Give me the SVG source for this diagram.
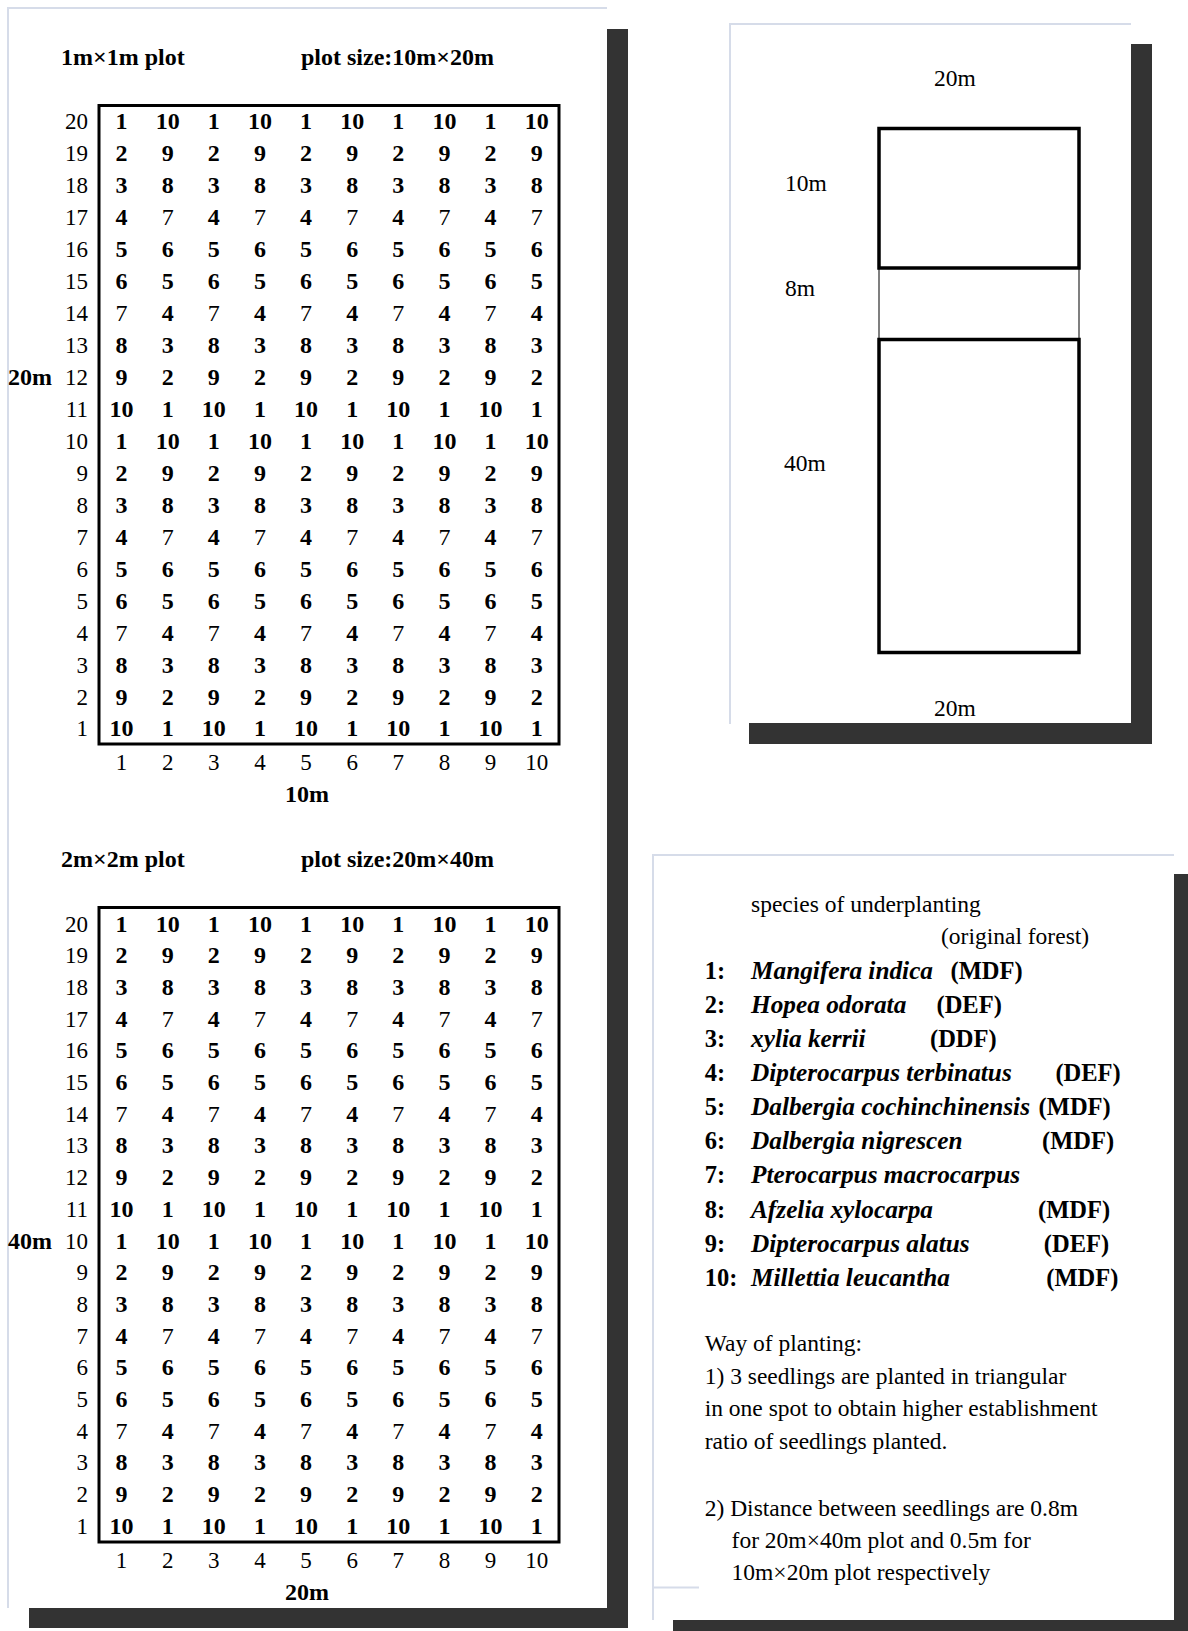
<svg xmlns="http://www.w3.org/2000/svg" width="1188" height="1631" viewBox="0 0 1188 1631">
<style>
text{font-family:"Liberation Serif","Times New Roman",serif;fill:#000}
.b{font-weight:bold;font-size:24px}
.c{font-weight:bold;font-size:24px;text-anchor:middle}
.n{font-weight:normal}
.lab{font-size:23px;text-anchor:end}
.ax{font-size:23px;text-anchor:middle}
.dim{font-weight:bold;font-size:24px;text-anchor:middle}
.r{font-size:23.5px}
.num{font-weight:bold;font-size:24.5px}
.sp{font-weight:bold;font-style:italic;font-size:25.3px}
.sh{fill:#333333}
.bd{stroke:#d6dce9;stroke-width:2;fill:none}
.box{fill:none;stroke:#000;stroke-width:3}
</style>
<rect width="1188" height="1631" fill="#fff"/>

<g id="panel-left">
<rect class="sh" x="607" y="29" width="21" height="1599"/>
<rect class="sh" x="29" y="1608" width="599" height="20"/>
<path class="bd" d="M8 1608 V8 H607"/>
</g>

<g id="panel-top-right">
<rect class="sh" x="1131" y="44" width="21" height="700"/>
<rect class="sh" x="749" y="723" width="403" height="21"/>
<path class="bd" d="M730 724 V24 H1131"/>
</g>

<g id="panel-bottom-right">
<rect class="sh" x="1174" y="874" width="14" height="757"/>
<rect class="sh" x="673" y="1620" width="515" height="11"/>
<path class="bd" d="M653 1620 V855 H1174"/>
<path class="bd" d="M653 1587.5 H699"/>
</g>

<g id="grid-10x20">
<text class="b" x="61" y="65">1m×1m plot</text>
<text class="b" x="301" y="65">plot size:10m×20m</text>
<rect class="box" x="99" y="105.5" width="460" height="638.5"/>
<g class="lab" transform="translate(0,-1.5)">
<text x="88" y="130.5">20</text><text x="88" y="162.5">19</text><text x="88" y="194.4">18</text><text x="88" y="226.4">17</text><text x="88" y="258.4">16</text><text x="88" y="290.4">15</text><text x="88" y="322.3">14</text><text x="88" y="354.3">13</text><text x="88" y="386.3">12</text><text x="88" y="418.2">11</text><text x="88" y="450.2">10</text><text x="88" y="482.2">9</text><text x="88" y="514.1">8</text><text x="88" y="546.1">7</text><text x="88" y="578.1">6</text><text x="88" y="610">5</text><text x="88" y="642">4</text><text x="88" y="674">3</text><text x="88" y="706">2</text><text x="88" y="737.9">1</text>
</g>
<text class="b" x="8" y="384.8">20m</text>
<g class="c" transform="translate(0,-1.5)">
<text y="130.5"><tspan x="121.6">1</tspan><tspan x="167.7">10</tspan><tspan x="213.8">1</tspan><tspan x="260">10</tspan><tspan x="306.1">1</tspan><tspan x="352.2">10</tspan><tspan x="398.3">1</tspan><tspan x="444.4">10</tspan><tspan x="490.6">1</tspan><tspan x="536.7">10</tspan></text>
<text y="162.5"><tspan x="121.6">2</tspan><tspan x="167.7">9</tspan><tspan x="213.8">2</tspan><tspan x="260">9</tspan><tspan x="306.1">2</tspan><tspan x="352.2">9</tspan><tspan x="398.3">2</tspan><tspan x="444.4">9</tspan><tspan x="490.6">2</tspan><tspan x="536.7">9</tspan></text>
<text y="194.4"><tspan x="121.6">3</tspan><tspan x="167.7">8</tspan><tspan x="213.8">3</tspan><tspan x="260">8</tspan><tspan x="306.1">3</tspan><tspan x="352.2">8</tspan><tspan x="398.3">3</tspan><tspan x="444.4">8</tspan><tspan x="490.6">3</tspan><tspan x="536.7">8</tspan></text>
<text y="226.4"><tspan x="121.6">4</tspan><tspan class="n" x="167.7">7</tspan><tspan x="213.8">4</tspan><tspan class="n" x="260">7</tspan><tspan x="306.1">4</tspan><tspan class="n" x="352.2">7</tspan><tspan x="398.3">4</tspan><tspan class="n" x="444.4">7</tspan><tspan x="490.6">4</tspan><tspan class="n" x="536.7">7</tspan></text>
<text y="258.4"><tspan x="121.6">5</tspan><tspan x="167.7">6</tspan><tspan x="213.8">5</tspan><tspan x="260">6</tspan><tspan x="306.1">5</tspan><tspan x="352.2">6</tspan><tspan x="398.3">5</tspan><tspan x="444.4">6</tspan><tspan x="490.6">5</tspan><tspan x="536.7">6</tspan></text>
<text y="290.4"><tspan x="121.6">6</tspan><tspan x="167.7">5</tspan><tspan x="213.8">6</tspan><tspan x="260">5</tspan><tspan x="306.1">6</tspan><tspan x="352.2">5</tspan><tspan x="398.3">6</tspan><tspan x="444.4">5</tspan><tspan x="490.6">6</tspan><tspan x="536.7">5</tspan></text>
<text y="322.3"><tspan class="n" x="121.6">7</tspan><tspan x="167.7">4</tspan><tspan class="n" x="213.8">7</tspan><tspan x="260">4</tspan><tspan class="n" x="306.1">7</tspan><tspan x="352.2">4</tspan><tspan class="n" x="398.3">7</tspan><tspan x="444.4">4</tspan><tspan class="n" x="490.6">7</tspan><tspan x="536.7">4</tspan></text>
<text y="354.3"><tspan x="121.6">8</tspan><tspan x="167.7">3</tspan><tspan x="213.8">8</tspan><tspan x="260">3</tspan><tspan x="306.1">8</tspan><tspan x="352.2">3</tspan><tspan x="398.3">8</tspan><tspan x="444.4">3</tspan><tspan x="490.6">8</tspan><tspan x="536.7">3</tspan></text>
<text y="386.3"><tspan x="121.6">9</tspan><tspan x="167.7">2</tspan><tspan x="213.8">9</tspan><tspan x="260">2</tspan><tspan x="306.1">9</tspan><tspan x="352.2">2</tspan><tspan x="398.3">9</tspan><tspan x="444.4">2</tspan><tspan x="490.6">9</tspan><tspan x="536.7">2</tspan></text>
<text y="418.2"><tspan x="121.6">10</tspan><tspan x="167.7">1</tspan><tspan x="213.8">10</tspan><tspan x="260">1</tspan><tspan x="306.1">10</tspan><tspan x="352.2">1</tspan><tspan x="398.3">10</tspan><tspan x="444.4">1</tspan><tspan x="490.6">10</tspan><tspan x="536.7">1</tspan></text>
<text y="450.2"><tspan x="121.6">1</tspan><tspan x="167.7">10</tspan><tspan x="213.8">1</tspan><tspan x="260">10</tspan><tspan x="306.1">1</tspan><tspan x="352.2">10</tspan><tspan x="398.3">1</tspan><tspan x="444.4">10</tspan><tspan x="490.6">1</tspan><tspan x="536.7">10</tspan></text>
<text y="482.2"><tspan x="121.6">2</tspan><tspan x="167.7">9</tspan><tspan x="213.8">2</tspan><tspan x="260">9</tspan><tspan x="306.1">2</tspan><tspan x="352.2">9</tspan><tspan x="398.3">2</tspan><tspan x="444.4">9</tspan><tspan x="490.6">2</tspan><tspan x="536.7">9</tspan></text>
<text y="514.1"><tspan x="121.6">3</tspan><tspan x="167.7">8</tspan><tspan x="213.8">3</tspan><tspan x="260">8</tspan><tspan x="306.1">3</tspan><tspan x="352.2">8</tspan><tspan x="398.3">3</tspan><tspan x="444.4">8</tspan><tspan x="490.6">3</tspan><tspan x="536.7">8</tspan></text>
<text y="546.1"><tspan x="121.6">4</tspan><tspan class="n" x="167.7">7</tspan><tspan x="213.8">4</tspan><tspan class="n" x="260">7</tspan><tspan x="306.1">4</tspan><tspan class="n" x="352.2">7</tspan><tspan x="398.3">4</tspan><tspan class="n" x="444.4">7</tspan><tspan x="490.6">4</tspan><tspan class="n" x="536.7">7</tspan></text>
<text y="578.1"><tspan x="121.6">5</tspan><tspan x="167.7">6</tspan><tspan x="213.8">5</tspan><tspan x="260">6</tspan><tspan x="306.1">5</tspan><tspan x="352.2">6</tspan><tspan x="398.3">5</tspan><tspan x="444.4">6</tspan><tspan x="490.6">5</tspan><tspan x="536.7">6</tspan></text>
<text y="610"><tspan x="121.6">6</tspan><tspan x="167.7">5</tspan><tspan x="213.8">6</tspan><tspan x="260">5</tspan><tspan x="306.1">6</tspan><tspan x="352.2">5</tspan><tspan x="398.3">6</tspan><tspan x="444.4">5</tspan><tspan x="490.6">6</tspan><tspan x="536.7">5</tspan></text>
<text y="642"><tspan class="n" x="121.6">7</tspan><tspan x="167.7">4</tspan><tspan class="n" x="213.8">7</tspan><tspan x="260">4</tspan><tspan class="n" x="306.1">7</tspan><tspan x="352.2">4</tspan><tspan class="n" x="398.3">7</tspan><tspan x="444.4">4</tspan><tspan class="n" x="490.6">7</tspan><tspan x="536.7">4</tspan></text>
<text y="674"><tspan x="121.6">8</tspan><tspan x="167.7">3</tspan><tspan x="213.8">8</tspan><tspan x="260">3</tspan><tspan x="306.1">8</tspan><tspan x="352.2">3</tspan><tspan x="398.3">8</tspan><tspan x="444.4">3</tspan><tspan x="490.6">8</tspan><tspan x="536.7">3</tspan></text>
<text y="706"><tspan x="121.6">9</tspan><tspan x="167.7">2</tspan><tspan x="213.8">9</tspan><tspan x="260">2</tspan><tspan x="306.1">9</tspan><tspan x="352.2">2</tspan><tspan x="398.3">9</tspan><tspan x="444.4">2</tspan><tspan x="490.6">9</tspan><tspan x="536.7">2</tspan></text>
<text y="737.9"><tspan x="121.6">10</tspan><tspan x="167.7">1</tspan><tspan x="213.8">10</tspan><tspan x="260">1</tspan><tspan x="306.1">10</tspan><tspan x="352.2">1</tspan><tspan x="398.3">10</tspan><tspan x="444.4">1</tspan><tspan x="490.6">10</tspan><tspan x="536.7">1</tspan></text>
</g>
<text class="ax" y="770"><tspan x="121.6">1</tspan><tspan x="167.7">2</tspan><tspan x="213.8">3</tspan><tspan x="260">4</tspan><tspan x="306.1">5</tspan><tspan x="352.2">6</tspan><tspan x="398.3">7</tspan><tspan x="444.4">8</tspan><tspan x="490.6">9</tspan><tspan x="536.7">10</tspan></text>
<text class="dim" x="307" y="802">10m</text>
</g>

<g id="grid-20x40">
<text class="b" x="61" y="867">2m×2m plot</text>
<text class="b" x="301" y="867">plot size:20m×40m</text>
<rect class="box" x="99" y="907.5" width="460" height="634.5"/>
<g class="lab" transform="translate(0,-1.5)">
<text x="88" y="933">20</text><text x="88" y="964.7">19</text><text x="88" y="996.4">18</text><text x="88" y="1028.1">17</text><text x="88" y="1059.8">16</text><text x="88" y="1091.5">15</text><text x="88" y="1123.2">14</text><text x="88" y="1154.9">13</text><text x="88" y="1186.6">12</text><text x="88" y="1218.3">11</text><text x="88" y="1250">10</text><text x="88" y="1281.7">9</text><text x="88" y="1313.4">8</text><text x="88" y="1345.1">7</text><text x="88" y="1376.8">6</text><text x="88" y="1408.5">5</text><text x="88" y="1440.2">4</text><text x="88" y="1471.9">3</text><text x="88" y="1503.6">2</text><text x="88" y="1535.3">1</text>
</g>
<text class="b" x="8" y="1248.5">40m</text>
<g class="c" transform="translate(0,-1.5)">
<text y="933"><tspan x="121.6">1</tspan><tspan x="167.7">10</tspan><tspan x="213.8">1</tspan><tspan x="260">10</tspan><tspan x="306.1">1</tspan><tspan x="352.2">10</tspan><tspan x="398.3">1</tspan><tspan x="444.4">10</tspan><tspan x="490.6">1</tspan><tspan x="536.7">10</tspan></text>
<text y="964.7"><tspan x="121.6">2</tspan><tspan x="167.7">9</tspan><tspan x="213.8">2</tspan><tspan x="260">9</tspan><tspan x="306.1">2</tspan><tspan x="352.2">9</tspan><tspan x="398.3">2</tspan><tspan x="444.4">9</tspan><tspan x="490.6">2</tspan><tspan x="536.7">9</tspan></text>
<text y="996.4"><tspan x="121.6">3</tspan><tspan x="167.7">8</tspan><tspan x="213.8">3</tspan><tspan x="260">8</tspan><tspan x="306.1">3</tspan><tspan x="352.2">8</tspan><tspan x="398.3">3</tspan><tspan x="444.4">8</tspan><tspan x="490.6">3</tspan><tspan x="536.7">8</tspan></text>
<text y="1028.1"><tspan x="121.6">4</tspan><tspan class="n" x="167.7">7</tspan><tspan x="213.8">4</tspan><tspan class="n" x="260">7</tspan><tspan x="306.1">4</tspan><tspan class="n" x="352.2">7</tspan><tspan x="398.3">4</tspan><tspan class="n" x="444.4">7</tspan><tspan x="490.6">4</tspan><tspan class="n" x="536.7">7</tspan></text>
<text y="1059.8"><tspan x="121.6">5</tspan><tspan x="167.7">6</tspan><tspan x="213.8">5</tspan><tspan x="260">6</tspan><tspan x="306.1">5</tspan><tspan x="352.2">6</tspan><tspan x="398.3">5</tspan><tspan x="444.4">6</tspan><tspan x="490.6">5</tspan><tspan x="536.7">6</tspan></text>
<text y="1091.5"><tspan x="121.6">6</tspan><tspan x="167.7">5</tspan><tspan x="213.8">6</tspan><tspan x="260">5</tspan><tspan x="306.1">6</tspan><tspan x="352.2">5</tspan><tspan x="398.3">6</tspan><tspan x="444.4">5</tspan><tspan x="490.6">6</tspan><tspan x="536.7">5</tspan></text>
<text y="1123.2"><tspan class="n" x="121.6">7</tspan><tspan x="167.7">4</tspan><tspan class="n" x="213.8">7</tspan><tspan x="260">4</tspan><tspan class="n" x="306.1">7</tspan><tspan x="352.2">4</tspan><tspan class="n" x="398.3">7</tspan><tspan x="444.4">4</tspan><tspan class="n" x="490.6">7</tspan><tspan x="536.7">4</tspan></text>
<text y="1154.9"><tspan x="121.6">8</tspan><tspan x="167.7">3</tspan><tspan x="213.8">8</tspan><tspan x="260">3</tspan><tspan x="306.1">8</tspan><tspan x="352.2">3</tspan><tspan x="398.3">8</tspan><tspan x="444.4">3</tspan><tspan x="490.6">8</tspan><tspan x="536.7">3</tspan></text>
<text y="1186.6"><tspan x="121.6">9</tspan><tspan x="167.7">2</tspan><tspan x="213.8">9</tspan><tspan x="260">2</tspan><tspan x="306.1">9</tspan><tspan x="352.2">2</tspan><tspan x="398.3">9</tspan><tspan x="444.4">2</tspan><tspan x="490.6">9</tspan><tspan x="536.7">2</tspan></text>
<text y="1218.3"><tspan x="121.6">10</tspan><tspan x="167.7">1</tspan><tspan x="213.8">10</tspan><tspan x="260">1</tspan><tspan x="306.1">10</tspan><tspan x="352.2">1</tspan><tspan x="398.3">10</tspan><tspan x="444.4">1</tspan><tspan x="490.6">10</tspan><tspan x="536.7">1</tspan></text>
<text y="1250"><tspan x="121.6">1</tspan><tspan x="167.7">10</tspan><tspan x="213.8">1</tspan><tspan x="260">10</tspan><tspan x="306.1">1</tspan><tspan x="352.2">10</tspan><tspan x="398.3">1</tspan><tspan x="444.4">10</tspan><tspan x="490.6">1</tspan><tspan x="536.7">10</tspan></text>
<text y="1281.7"><tspan x="121.6">2</tspan><tspan x="167.7">9</tspan><tspan x="213.8">2</tspan><tspan x="260">9</tspan><tspan x="306.1">2</tspan><tspan x="352.2">9</tspan><tspan x="398.3">2</tspan><tspan x="444.4">9</tspan><tspan x="490.6">2</tspan><tspan x="536.7">9</tspan></text>
<text y="1313.4"><tspan x="121.6">3</tspan><tspan x="167.7">8</tspan><tspan x="213.8">3</tspan><tspan x="260">8</tspan><tspan x="306.1">3</tspan><tspan x="352.2">8</tspan><tspan x="398.3">3</tspan><tspan x="444.4">8</tspan><tspan x="490.6">3</tspan><tspan x="536.7">8</tspan></text>
<text y="1345.1"><tspan x="121.6">4</tspan><tspan class="n" x="167.7">7</tspan><tspan x="213.8">4</tspan><tspan class="n" x="260">7</tspan><tspan x="306.1">4</tspan><tspan class="n" x="352.2">7</tspan><tspan x="398.3">4</tspan><tspan class="n" x="444.4">7</tspan><tspan x="490.6">4</tspan><tspan class="n" x="536.7">7</tspan></text>
<text y="1376.8"><tspan x="121.6">5</tspan><tspan x="167.7">6</tspan><tspan x="213.8">5</tspan><tspan x="260">6</tspan><tspan x="306.1">5</tspan><tspan x="352.2">6</tspan><tspan x="398.3">5</tspan><tspan x="444.4">6</tspan><tspan x="490.6">5</tspan><tspan x="536.7">6</tspan></text>
<text y="1408.5"><tspan x="121.6">6</tspan><tspan x="167.7">5</tspan><tspan x="213.8">6</tspan><tspan x="260">5</tspan><tspan x="306.1">6</tspan><tspan x="352.2">5</tspan><tspan x="398.3">6</tspan><tspan x="444.4">5</tspan><tspan x="490.6">6</tspan><tspan x="536.7">5</tspan></text>
<text y="1440.2"><tspan class="n" x="121.6">7</tspan><tspan x="167.7">4</tspan><tspan class="n" x="213.8">7</tspan><tspan x="260">4</tspan><tspan class="n" x="306.1">7</tspan><tspan x="352.2">4</tspan><tspan class="n" x="398.3">7</tspan><tspan x="444.4">4</tspan><tspan class="n" x="490.6">7</tspan><tspan x="536.7">4</tspan></text>
<text y="1471.9"><tspan x="121.6">8</tspan><tspan x="167.7">3</tspan><tspan x="213.8">8</tspan><tspan x="260">3</tspan><tspan x="306.1">8</tspan><tspan x="352.2">3</tspan><tspan x="398.3">8</tspan><tspan x="444.4">3</tspan><tspan x="490.6">8</tspan><tspan x="536.7">3</tspan></text>
<text y="1503.6"><tspan x="121.6">9</tspan><tspan x="167.7">2</tspan><tspan x="213.8">9</tspan><tspan x="260">2</tspan><tspan x="306.1">9</tspan><tspan x="352.2">2</tspan><tspan x="398.3">9</tspan><tspan x="444.4">2</tspan><tspan x="490.6">9</tspan><tspan x="536.7">2</tspan></text>
<text y="1535.3"><tspan x="121.6">10</tspan><tspan x="167.7">1</tspan><tspan x="213.8">10</tspan><tspan x="260">1</tspan><tspan x="306.1">10</tspan><tspan x="352.2">1</tspan><tspan x="398.3">10</tspan><tspan x="444.4">1</tspan><tspan x="490.6">10</tspan><tspan x="536.7">1</tspan></text>
</g>
<text class="ax" y="1568"><tspan x="121.6">1</tspan><tspan x="167.7">2</tspan><tspan x="213.8">3</tspan><tspan x="260">4</tspan><tspan x="306.1">5</tspan><tspan x="352.2">6</tspan><tspan x="398.3">7</tspan><tspan x="444.4">8</tspan><tspan x="490.6">9</tspan><tspan x="536.7">10</tspan></text>
<text class="dim" x="307" y="1600">20m</text>
</g>

<g id="layout-plan">
<rect x="879" y="268" width="200" height="71" fill="none" stroke="#555" stroke-width="1.5"/>
<rect x="879" y="128.5" width="200" height="139.5" fill="none" stroke="#000" stroke-width="3.5"/>
<rect x="879" y="339.5" width="200" height="313" fill="none" stroke="#000" stroke-width="3.5"/>
<text class="r" x="955" y="86" text-anchor="middle">20m</text>
<text class="r" x="785" y="191">10m</text>
<text class="r" x="785" y="296">8m</text>
<text class="r" x="784" y="471">40m</text>
<text class="r" x="955" y="716" text-anchor="middle">20m</text>
</g>

<g id="legend">
<text class="r" x="751" y="912">species of underplanting</text>
<text class="r" x="941" y="944">(original forest)</text>
<g class="num">
<text x="704.7" y="979">1:</text>
<text x="704.7" y="1013">2:</text>
<text x="704.7" y="1047.2">3:</text>
<text x="704.7" y="1081.2">4:</text>
<text x="704.7" y="1115.3">5:</text>
<text x="704.7" y="1149.4">6:</text>
<text x="704.7" y="1183.4">7:</text>
<text x="704.7" y="1217.5">8:</text>
<text x="704.7" y="1251.6">9:</text>
<text x="704.7" y="1285.6">10:</text>
<text x="950.5" y="979">(MDF)</text>
<text x="936.5" y="1013">(DEF)</text>
<text x="930" y="1047.2">(DDF)</text>
<text x="1055.4" y="1081.2">(DEF)</text>
<text x="1038.6" y="1115.3">(MDF)</text>
<text x="1042" y="1149.4">(MDF)</text>
<text x="1038" y="1217.5">(MDF)</text>
<text x="1043.8" y="1251.6">(DEF)</text>
<text x="1046.3" y="1285.6">(MDF)</text>
</g>
<g class="sp">
<text x="751" y="979">Mangifera indica</text>
<text x="751" y="1013">Hopea odorata</text>
<text x="751" y="1047.2">xylia kerrii</text>
<text x="751" y="1081.2">Dipterocarpus terbinatus</text>
<text x="751" y="1115.3">Dalbergia cochinchinensis</text>
<text x="751" y="1149.4">Dalbergia nigrescen</text>
<text x="751" y="1183.4">Pterocarpus macrocarpus</text>
<text x="751" y="1217.5">Afzelia xylocarpa</text>
<text x="751" y="1251.6">Dipterocarpus alatus</text>
<text x="751" y="1285.6">Millettia leucantha</text>
</g>
</g>

<g id="notes" class="r">
<text x="704.7" y="1351">Way of planting:</text>
<text x="704.7" y="1384">1) 3 seedlings are planted in triangular</text>
<text x="704.7" y="1416">in one spot to obtain higher establishment</text>
<text x="704.7" y="1448.5">ratio of seedlings planted.</text>
<text x="704.7" y="1515.5">2) Distance between seedlings are 0.8m</text>
<text x="731.6" y="1547.5">for 20m×40m plot and 0.5m for</text>
<text x="731.6" y="1580">10m×20m plot respectively</text>
</g>
</svg>
